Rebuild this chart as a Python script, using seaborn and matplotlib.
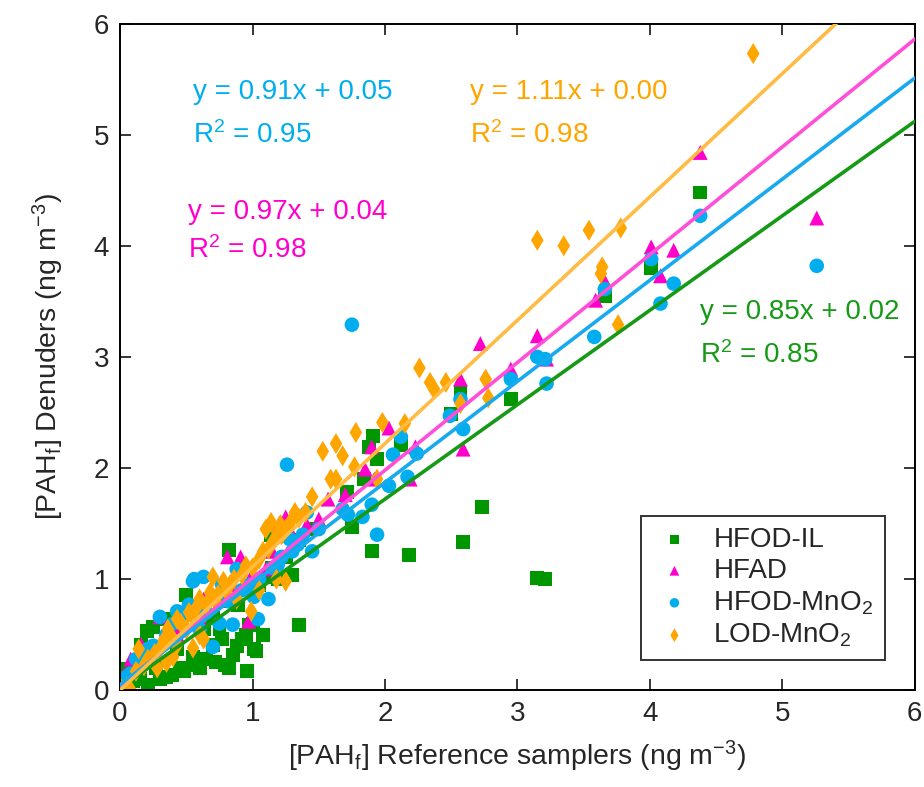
import numpy as np
import pandas as pd
import matplotlib
matplotlib.use("Agg")
import matplotlib.pyplot as plt
import seaborn as sns

# HFOD-IL (green squares)
il_x = [4.38, 4.01, 3.66, 2.57, 2.50, 2.95, 2.73, 2.59, 2.18, 1.90, 3.15, 3.21, 1.35, 1.91, 1.94, 1.88,
        1.84, 2.12, 1.75, 1.71, 1.30, 1.19, 1.14, 0.82, 0.89, 1.01, 1.08, 1.03, 0.96, 0.92, 0.79, 0.77,
        0.85, 0.65, 0.56, 0.48, 0.39, 0.30, 0.21, 0.50, 0.25, 0.34, 0.16, 0.05, 0.01, 0.70, 0.63, 0.43,
        0.97, 1.05, 1.12, 0.10, 0.15, 0.35, 0.45, 0.55, 0.60, 0.72, 0.82, 0.88, 0.95, 1.00, 0.27, 0.40,
        0.62, 0.70, 0.75, 1.15, 1.25, 1.35, 1.45, 0.20, 0.80]
il_y = [4.48, 3.80, 3.55, 2.68, 2.49, 2.62, 1.65, 1.33, 1.22, 1.25, 1.01, 1.00, 0.59, 2.29, 2.08, 2.19,
        1.90, 2.21, 1.47, 1.78, 1.04, 1.00, 1.40, 1.26, 0.77, 0.37, 0.50, 0.35, 0.17, 0.46, 0.23, 0.46,
        0.32, 0.28, 0.23, 0.17, 0.14, 0.10, 0.05, 0.86, 0.57, 0.64, 0.41, 0.19, 0.03, 0.41, 0.55, 0.37,
        0.59, 0.95, 1.02, 0.08, 0.10, 0.12, 0.20, 0.30, 0.20, 0.25, 0.20, 0.40, 0.50, 0.60, 0.20, 0.50,
        0.78, 0.65, 0.55, 1.10, 1.20, 1.35, 1.45, 0.53, 0.80]

# HFAD (magenta triangles)
hfad_x = [4.38, 5.26, 4.01, 4.18, 4.08, 3.66, 3.59, 3.15, 3.22, 2.95, 2.72, 2.57, 2.59, 2.19, 2.03, 2.23,
          1.90, 1.85, 1.92, 1.70, 1.41, 1.25, 1.19, 1.10, 0.91, 0.81, 0.97, 0.79, 0.63, 0.48, 0.30, 0.16,
          0.08, 0.43, 0.25, 0.03, 1.50, 1.57, 0.12, 0.20, 0.35, 0.55, 0.70, 0.85, 1.00, 1.15, 1.30, 1.20,
          0.60, 0.45]
hfad_y = [4.84, 4.25, 3.99, 3.96, 3.73, 3.68, 3.51, 3.19, 2.98, 2.89, 3.12, 2.80, 2.17, 1.90, 2.36, 2.19,
          2.19, 1.99, 1.90, 1.76, 1.49, 1.56, 1.40, 1.09, 1.20, 1.20, 0.62, 0.91, 0.82, 0.73, 0.66, 0.41,
          0.28, 0.50, 0.37, 0.14, 1.54, 1.72, 0.25, 0.35, 0.55, 0.70, 0.85, 0.95, 1.05, 1.25, 1.40, 1.50,
          0.65, 0.60]

# HFOD-MnO2 (blue circles)
mno_x = [4.38, 5.26, 4.01, 4.18, 4.08, 3.66, 3.58, 3.15, 3.21, 3.22, 2.95, 2.57, 2.59, 2.49, 2.17, 2.03,
         2.06, 2.12, 2.24, 1.75, 1.26, 1.94, 1.90, 1.83, 1.72, 1.68, 1.45, 1.41, 1.34, 1.28, 1.12, 1.01,
         1.04, 0.85, 0.70, 0.63, 0.56, 0.43, 0.30, 0.12, 0.88, 0.77, 0.52, 0.05, 0.21, 1.19, 0.08, 0.18,
         0.25, 0.35, 0.40, 0.47, 0.55, 0.60, 0.65, 0.75, 0.82, 0.92, 0.98, 1.05, 1.15, 1.22, 1.30, 1.38,
         1.50]
mno_y = [4.27, 3.82, 3.88, 3.66, 3.48, 3.61, 3.18, 3.00, 2.98, 2.76, 2.80, 2.62, 2.35, 2.47, 1.92, 1.84,
         2.12, 2.28, 2.13, 3.29, 2.03, 1.40, 1.67, 1.56, 1.58, 1.63, 1.25, 1.60, 1.31, 1.36, 0.82, 0.84,
         0.64, 0.59, 0.39, 1.02, 1.00, 0.71, 0.66, 0.28, 1.09, 0.95, 0.77, 0.12, 0.37, 1.13, 0.15, 0.30,
         0.40, 0.50, 0.60, 0.65, 0.98, 0.55, 0.70, 0.60, 0.80, 0.90, 0.95, 1.00, 1.10, 1.20, 1.25, 1.40,
         1.45]

# LOD-MnO2 (orange diamonds)
lod_x = [4.78, 3.78, 3.54, 3.35, 3.15, 3.64, 3.63, 3.76, 2.26, 2.34, 2.46, 2.37, 2.76, 2.78, 2.57, 2.15,
         1.98, 1.78, 1.63, 1.68, 1.53, 1.59, 1.63, 1.77, 1.45, 1.94, 1.32, 1.25, 1.19, 1.12, 1.05, 1.25,
         0.99, 0.92, 0.83, 0.74, 0.65, 0.56, 0.50, 0.43, 0.36, 0.30, 0.21, 0.12, 0.05, 0.08, 0.01, 0.63,
         0.70, 0.88, 0.43, 1.14, 1.10, 1.21, 0.14, 0.18, 0.26, 0.33, 0.38, 0.46, 0.52, 0.58, 0.60, 0.68,
         0.72, 0.78, 0.80, 0.86, 0.95, 1.00, 1.08, 1.16, 1.22, 1.28, 1.35, 1.40, 0.55, 0.60, 0.40, 0.35,
         0.28, 1.18, 1.05]
lod_y = [5.73, 4.16, 4.14, 4.00, 4.05, 3.81, 3.75, 3.29, 2.90, 2.77, 2.77, 2.71, 2.80, 2.63, 2.58, 2.40,
         2.41, 2.32, 2.22, 2.11, 2.15, 1.90, 1.90, 2.01, 1.74, 1.90, 1.60, 1.45, 1.42, 1.27, 1.18, 0.98,
         0.71, 1.04, 0.95, 0.86, 0.77, 0.64, 0.55, 0.41, 0.55, 0.37, 0.28, 0.17, 0.03, 0.00, 0.01, 0.46,
         1.02, 0.82, 0.64, 1.51, 1.45, 1.49, 0.37, 0.22, 0.33, 0.45, 0.50, 0.60, 0.70, 0.75, 0.82, 0.88,
         0.80, 0.98, 0.90, 1.00, 1.12, 1.10, 1.25, 1.35, 1.40, 1.50, 1.55, 1.60, 0.38, 0.50, 0.30, 0.25,
         0.20, 1.00, 0.90]

groups = ["HFOD-IL", "HFAD", "HFOD-MnO2", "LOD-MnO2"]
legend_labels = ["HFOD-IL", "HFAD", "HFOD-MnO$_2$", "LOD-MnO$_2$"]
slopes = [0.85, 0.97, 0.91, 1.11]
intercepts = [0.02, 0.04, 0.05, 0.00]
r2 = [0.85, 0.98, 0.95, 0.98]

df = pd.concat([
    pd.DataFrame({"x": il_x, "y": il_y, "group": "HFOD-IL"}),
    pd.DataFrame({"x": hfad_x, "y": hfad_y, "group": "HFAD"}),
    pd.DataFrame({"x": mno_x, "y": mno_y, "group": "HFOD-MnO2"}),
    pd.DataFrame({"x": lod_x, "y": lod_y, "group": "LOD-MnO2"}),
], ignore_index=True)

sns.set_style("ticks")
plt.rcParams["font.family"] = ["Liberation Sans", "DejaVu Sans"]
plt.rcParams["mathtext.fontset"] = "custom"
plt.rcParams["mathtext.rm"] = "Liberation Sans"
plt.rcParams["mathtext.it"] = "Liberation Sans:italic"

marker_col = {"HFOD-IL": "#009600", "HFAD": "#FF00CC", "HFOD-MnO2": "#00AEEF", "LOD-MnO2": "#FFA500"}
line_col = {"HFOD-IL": "#169A16", "HFAD": "#FF4FD8", "HFOD-MnO2": "#19A9EE", "LOD-MnO2": "#FFBB44"}
text_col = {"HFOD-IL": "#169A16", "HFAD": "#FF00CC", "HFOD-MnO2": "#00AEEF", "LOD-MnO2": "#FFA500"}
markers = {"HFOD-IL": "s", "HFAD": "^", "HFOD-MnO2": "o", "LOD-MnO2": "d"}
msize = {"HFOD-IL": 100, "HFAD": 115, "HFOD-MnO2": 110, "LOD-MnO2": 115}

fig = plt.figure(figsize=(9.24, 7.87), dpi=100)
ax = fig.add_axes([0.13, 0.123, 0.86, 0.847])

for g, lab in zip(groups, legend_labels):
    sub = df[df["group"] == g]
    sns.scatterplot(data=sub, x="x", y="y", marker=markers[g], color=marker_col[g],
                    s=msize[g], edgecolor="none", linewidth=0, label=lab, ax=ax, zorder=2)

# fitted lines
xfit = np.array([0.0, 6.0])
for g, m, b in zip(groups, slopes, intercepts):
    sns.lineplot(x=xfit, y=m * xfit + b, color=line_col[g], linewidth=2.6, ax=ax, zorder=3)

# equations
eq_pos = {"HFOD-MnO2": (0.55, 5.38, 5.00), "LOD-MnO2": (2.64, 5.38, 5.00),
          "HFAD": (0.51, 4.30, 3.96), "HFOD-IL": (4.38, 3.40, 3.02)}
for g, m, b, r in zip(groups, slopes, intercepts, r2):
    px, py1, py2 = eq_pos[g]
    ax.text(px, py1, f"y = {m:.2f}x + {b:.2f}", color=text_col[g], fontsize=20, va="center", ha="left")
    ax.text(px, py2, f"R$^2$ = {r:.2f}", color=text_col[g], fontsize=20, va="center", ha="left")

ax.set_xlim(0, 6)
ax.set_ylim(0, 6)
ax.set_xticks(range(7))
ax.set_yticks(range(7))
ax.tick_params(direction="in", length=8, width=1.3, labelsize=20, top=True, right=True, pad=8)
for sp in ax.spines.values():
    sp.set_linewidth(1.4)
    sp.set_color("black")

ax.set_xlabel("[PAH$_\\mathrm{f}$] Reference samplers (ng m$^{-3}$)", fontsize=20.5, labelpad=8)
ax.set_ylabel("[PAH$_\\mathrm{f}$] Denuders (ng m$^{-3}$)", fontsize=20.5, labelpad=20)

leg = ax.legend(loc="lower right", bbox_to_anchor=(0.962, 0.045), borderaxespad=0, fontsize=20,
                frameon=True, fancybox=False, edgecolor="black", labelspacing=0.18,
                handletextpad=0.6, markerscale=0.65, borderpad=0.4, handlelength=1.6)
leg.get_frame().set_linewidth(1.4)

fig.savefig("out.png", dpi=100)
